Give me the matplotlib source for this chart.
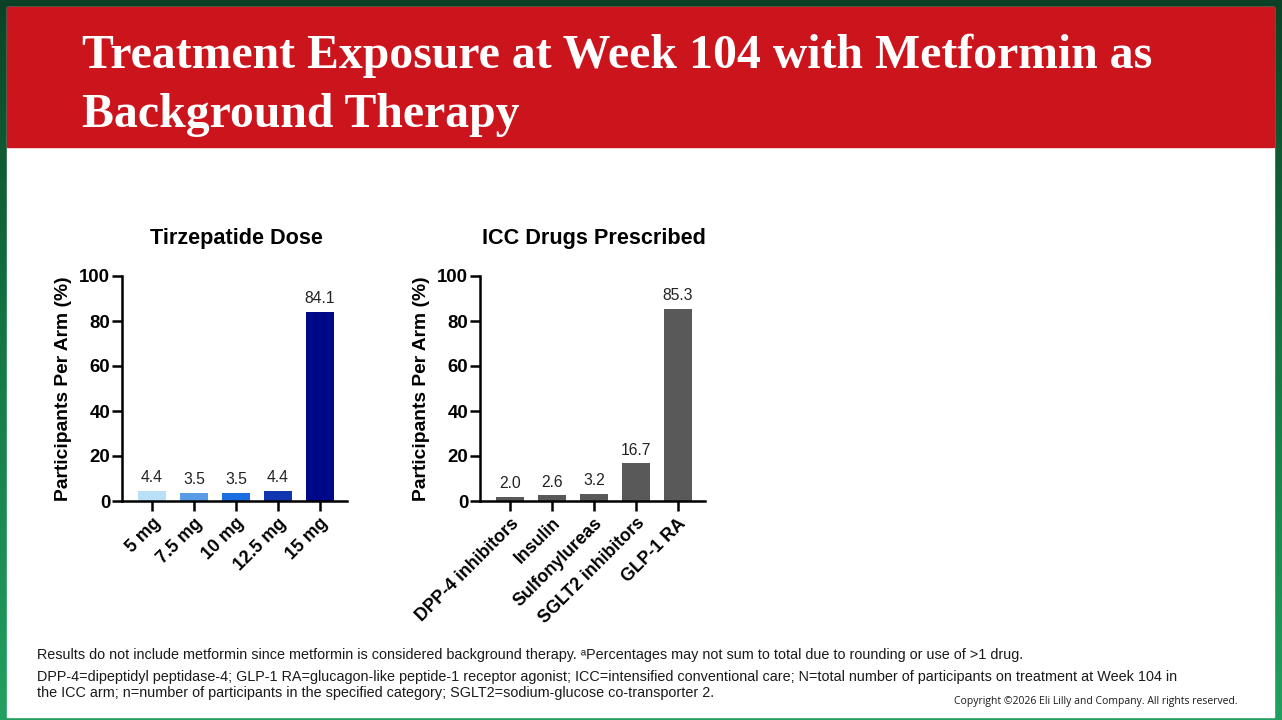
import matplotlib.pyplot as plt
import numpy as np
from matplotlib.patches import Rectangle
from matplotlib.colors import LinearSegmentedColormap

# data
doses = ["5 mg", "7.5 mg", "10 mg", "12.5 mg", "15 mg"]
dose_pct = [4.4, 3.5, 3.5, 4.4, 84.1]
dose_colors = ["#b9e0f7", "#5a9be6", "#1a6ee0", "#1036b0", "#00088a"]

icc_drugs = ["DPP-4 inhibitors", "Insulin", "Sulfonylureas", "SGLT2 inhibitors", "GLP-1 RA"]
icc_pct = [2.0, 2.6, 3.2, 16.7, 85.3]
icc_color = "#595959"

y_ticks = [0, 20, 40, 60, 80, 100]

W, H = 1282, 720
fig = plt.figure(figsize=(W / 100, H / 100), dpi=100)


def px(x0, y0, x1, y1):
    # pixel box (top-left origin) -> figure fraction
    return [x0 / W, 1 - y1 / H, (x1 - x0) / W, (y1 - y0) / H]


# background: green gradient frame, white slide, red banner
bg = fig.add_axes([0, 0, 1, 1])
grad = np.linspace(0, 1, 256).reshape(-1, 1)
cm = LinearSegmentedColormap.from_list("g", ["#0b4227", "#157a45", "#22a060"])
bg.imshow(grad, aspect="auto", cmap=cm, extent=[0, 1, 0, 1], origin="upper")
bg.add_patch(Rectangle((7 / W, 1 - 717 / H), (1274 - 7) / W, (717 - 7) / H,
                       color="white", transform=bg.transAxes))
bg.add_patch(Rectangle((7 / W, 1 - 147 / H), (1274 - 7) / W, (147 - 7) / H,
                       color="#cc141c", transform=bg.transAxes))
bg.set_xlim(0, 1)
bg.set_ylim(0, 1)
bg.axis("off")

title_font = {"family": "Liberation Serif", "weight": "bold", "color": "white", "size": 34.4}
fig.text(82 / W, 1 - 68 / H, "Treatment Exposure at Week 104 with Metformin as",
         fontdict=title_font, va="baseline")
fig.text(82 / W, 1 - 127 / H, "Background Therapy", fontdict=title_font, va="baseline")


def bar_panel(rect, cats, vals, colors, title, title_x):
    ax = fig.add_axes(rect)
    x = np.arange(len(cats))
    ax.bar(x, vals, width=0.667, color=colors)
    ax.set_xlim(-0.714, len(cats) - 1 + 0.65)
    ax.set_ylim(0, 100)
    ax.set_yticks(y_ticks)
    ax.set_xticks(x)
    ax.set_xticklabels(cats, rotation=45, ha="right", rotation_mode="anchor",
                       fontsize=12.8, fontweight="bold", family="Liberation Sans")
    for lab in ax.get_yticklabels():
        lab.set_fontsize(13.4)
        lab.set_fontweight("bold")
        lab.set_family("Liberation Sans")
    for s in ["top", "right"]:
        ax.spines[s].set_visible(False)
    for s in ["left", "bottom"]:
        ax.spines[s].set_linewidth(1.8)
    ax.tick_params(axis="both", length=7, width=1.8, pad=1.5)
    ax.tick_params(axis="x", pad=3)
    ax.set_ylabel("Participants Per Arm (%)", fontsize=13.9, fontweight="bold",
                  family="Liberation Sans", labelpad=5)
    for xi, v in zip(x, vals):
        ax.text(xi, v + 2.5, f"{v:.1f}", ha="center", va="bottom", fontsize=11.3,
                family="Liberation Sans", color="#222222")
    fig.text(title_x / W, 1 - 239 / H, title, ha="center", va="center",
             fontsize=15.6, fontweight="bold", family="Liberation Sans")
    return ax


bar_panel(px(122, 276, 347, 501), doses, dose_pct, dose_colors, "Tirzepatide Dose", 236)
bar_panel(px(480, 276, 705, 501), icc_drugs, icc_pct, icc_color, "ICC Drugs Prescribed", 594)

foot = {"family": ["Liberation Sans", "DejaVu Sans"], "size": 10.4, "color": "#1a1a1a"}
fig.text(37 / W, 1 - 659 / H,
         "Results do not include metformin since metformin is considered background therapy. "
         "\u1d43Percentages may not sum to total due to rounding or use of >1 drug.",
         fontdict=foot, va="baseline")
fig.text(37 / W, 1 - 681 / H,
         "DPP-4=dipeptidyl peptidase-4; GLP-1 RA=glucagon-like peptide-1 receptor agonist; "
         "ICC=intensified conventional care; N=total number of participants on treatment at Week 104 in",
         fontdict=foot, va="baseline")
fig.text(37 / W, 1 - 697 / H,
         "the ICC arm; n=number of participants in the specified category; "
         "SGLT2=sodium-glucose co-transporter 2.",
         fontdict=foot, va="baseline")
fig.text(1238 / W, 1 - 704 / H, "Copyright \u00a92026 Eli Lilly and Company. All rights reserved.",
         ha="right", va="baseline", fontsize=7.5, family="Open Sans", color="#1a1a1a")

fig.savefig("out.png", dpi=100)
